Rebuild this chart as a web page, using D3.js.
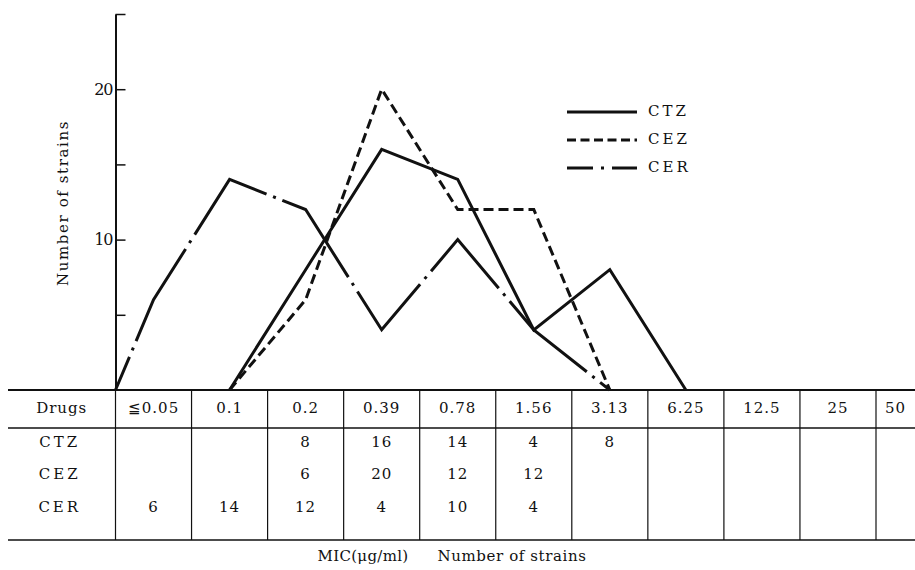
<!DOCTYPE html>
<html>
<head>
<meta charset="utf-8">
<script src="https://cdn.jsdelivr.net/npm/d3@7"></script>
<style>
  body { margin: 0; background: #fff; }
</style>
</head>
<body>
<svg id="chart" width="915" height="570"></svg>
<script>
// MIC classes (µg/ml) and number of strains per drug
const categories = ["≦0.05", "0.1", "0.2", "0.39", "0.78", "1.56", "3.13", "6.25", "12.5", "25", "50"];
const ctzValues = [null, null, 8, 16, 14, 4, 8, null, null, null, null];
const cezValues = [null, null, 6, 20, 12, 12, null, null, null, null, null];
const cerValues = [6, 14, 12, 4, 10, 4, null, null, null, null, null];
const drugNames = ["CTZ", "CEZ", "CER"];
const yTicks = [5, 10, 15, 20, 25];
const yLabelled = [10, 20];

const FONT = "'DejaVu Serif', serif";
const svg = d3.select("#chart");
const width = +svg.attr("width");

const plot = {left: 115.5, top: 14, bottom: 390};
const table = {left: 8, headerBottom: 428, bottom: 540, headerY: 409, rowY: [443, 475, 508]};

const x = d3.scaleBand()
    .domain(categories)
    .range([plot.left, plot.left + 76.05 * categories.length]);

const y = d3.scaleLinear()
    .domain([0, 25])
    .range([plot.bottom, plot.top]);

// y axis, ticks pointing inward
const yAxis = d3.axisLeft(y)
    .tickValues(yTicks)
    .tickSizeInner(-10)
    .tickSizeOuter(0)
    .tickPadding(3)
    .tickFormat(d => yLabelled.includes(d) ? d : "");

const yg = svg.append("g")
    .attr("transform", "translate(" + plot.left + ",0)")
    .call(yAxis);
yg.select(".domain").attr("stroke", "#111").attr("stroke-width", 2);
yg.selectAll(".tick line").attr("stroke", "#111").attr("stroke-width", 1.5);
yg.selectAll(".tick text")
    .style("font-family", FONT)
    .style("font-size", "16px")
    .style("letter-spacing", "-1px")
    .attr("fill", "#111");

function addText(parent, tx, ty, s, size, spacing) {
    return parent.append("text")
        .attr("x", tx).attr("y", ty)
        .attr("text-anchor", "middle")
        .attr("dominant-baseline", "middle")
        .attr("fill", "#111")
        .style("font-family", FONT)
        .style("font-size", size + "px")
        .style("letter-spacing", spacing + "px")
        .text(s);
}

addText(svg, 0, 0, "Number of strains", 15, 1.6)
    .attr("transform", "translate(64,203) rotate(-90)");

// series lines: zero before first and after last value
function seriesPoints(values) {
    const idx = values.map((v, i) => v == null ? -1 : i).filter(i => i >= 0);
    const first = idx[0], last = idx[idx.length - 1];
    const cx = i => plot.left + x.step() * i + x.bandwidth() / 2;
    const pts = [[Math.max(plot.left, cx(first - 1)), y(0)]];
    idx.forEach(i => pts.push([cx(i), y(values[i])]));
    pts.push([cx(last + 1), y(0)]);
    return pts;
}

const series = [
    {name: "CTZ", values: ctzValues, dash: null, legendDash: null, offset: 0},
    {name: "CEZ", values: cezValues, dash: "10,5", legendDash: "9,4.5", offset: 0},
    {name: "CER", values: cerValues, dash: "105,7,3,7", legendDash: "26,8,3,8", offset: 69}
];

const line = d3.line();
svg.selectAll(".series")
    .data(series)
    .enter()
    .append("path")
        .attr("class", "series")
        .attr("d", d => line(seriesPoints(d.values)))
        .attr("fill", "none")
        .attr("stroke", "#111")
        .attr("stroke-width", 3)
        .attr("stroke-dasharray", d => d.dash)
        .attr("stroke-dashoffset", d => d.offset);

// legend
const legend = svg.append("g").attr("transform", "translate(567,112)");
series.forEach((s, i) => {
    const g = legend.append("g").attr("transform", "translate(0," + (i * 28) + ")");
    g.append("line")
        .attr("x1", 0).attr("x2", 70)
        .attr("stroke", "#111")
        .attr("stroke-width", 3.2)
        .attr("stroke-dasharray", s.legendDash);
    addText(g, 81, 0, s.name, 15, 3).attr("text-anchor", "start");
});

// table under the chart
const tg = svg.append("g");
[plot.bottom, table.headerBottom, table.bottom].forEach((yy, i) => {
    tg.append("line")
        .attr("x1", table.left).attr("x2", width)
        .attr("y1", yy).attr("y2", yy)
        .attr("stroke", "#111")
        .attr("stroke-width", i === 0 ? 2 : 1.5);
});
categories.forEach(c => {
    tg.append("line")
        .attr("x1", x(c)).attr("x2", x(c))
        .attr("y1", plot.bottom).attr("y2", table.bottom)
        .attr("stroke", "#111")
        .attr("stroke-width", 1.2);
});

const cellCenter = c => Math.min(x(c) + x.bandwidth() / 2, (x(c) + width) / 2);

addText(tg, (table.left + plot.left) / 2, table.headerY, "Drugs", 15, 1);
categories.forEach(c => addText(tg, cellCenter(c), table.headerY, c, 15, 1));

[ctzValues, cezValues, cerValues].forEach((vals, r) => {
    addText(tg, (table.left + plot.left) / 2 - 2, table.rowY[r], drugNames[r], 15, 3);
    vals.forEach((v, i) => {
        if (v != null) addText(tg, cellCenter(categories[i]), table.rowY[r], v, 15, 1);
    });
});

addText(svg, 363, 557, "MIC(μg/ml)", 15, 0.3);
addText(svg, 512, 557, "Number of strains", 15, 0.6);
</script>
</body>
</html>
